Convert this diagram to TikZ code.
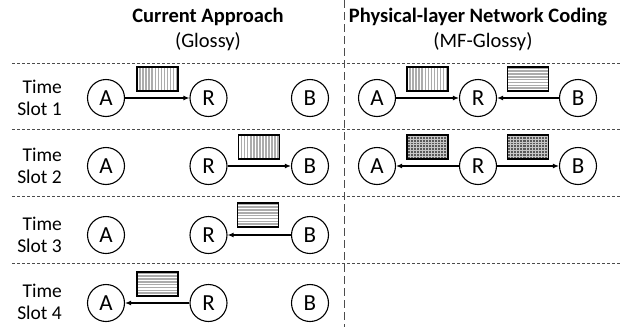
\documentclass[tikz,border=0pt]{standalone}
\usepackage{fontspec}
\setmainfont{Carlito}
\usetikzlibrary{arrows.meta}

\tikzset{
  station/.style={circle, draw, line width=1.1pt, minimum size=37pt, inner sep=0pt,
    font=\fontsize{23}{25}\selectfont},
  slotlabel/.style={anchor=east, align=right, inner sep=0pt,
    font=\fontsize{19.5}{22}\selectfont},
  heading/.style={inner sep=0pt, font=\fontsize{20.5}{24}\selectfont\bfseries},
  subheading/.style={inner sep=0pt, font=\fontsize{20.5}{24}\selectfont},
  rowsep/.style={line width=0.8pt, gray!60!black, dash pattern=on 3pt off 2pt},
  colsep/.style={line width=0.9pt, gray!60!black, dash pattern=on 8pt off 4pt},
  send/.style={line width=1.2pt, -{Latex[length=6pt, width=5pt]}},
  pkt/.style={draw, line width=1.1pt, minimum width=41pt, minimum height=24pt, inner sep=0pt},
  % packet from A: vertical stripes
  vpkt/.style={pkt, fill=white, path picture={
      \foreach \k in {1,...,13}
        \draw[gray!65, line width=1.6pt]
          ([xshift=\k*3.05pt]path picture bounding box.south west) --
          ([xshift=\k*3.05pt]path picture bounding box.north west);}},
  % packet from B: horizontal stripes
  hpkt/.style={pkt, fill=white, path picture={
      \foreach \k in {1,...,8}
        \draw[gray!65, line width=1.6pt]
          ([yshift=\k*2.85pt]path picture bounding box.south west) --
          ([yshift=\k*2.85pt]path picture bounding box.south east);}},
  % network-coded packet: dense grid
  gpkt/.style={pkt, fill=black!65, path picture={
      \foreach \k in {1,...,13}
        \draw[gray!45, line width=0.6pt]
          ([xshift=\k*3.05pt]path picture bounding box.south west) --
          ([xshift=\k*3.05pt]path picture bounding box.north west);
      \foreach \k in {1,...,8}
        \draw[gray!45, line width=0.6pt]
          ([yshift=\k*2.85pt]path picture bounding box.south west) --
          ([yshift=\k*2.85pt]path picture bounding box.south east);}},
}

\begin{document}
\begin{tikzpicture}[x=1pt, y=-1pt]
\useasboundingbox (0,0) rectangle (624,327);

% column headings
\node[heading]    (h1)  at (208,17) {Current Approach};
\node[subheading] (h1s) at (208,42) {(Glossy)};
\node[heading]    (h2)  at (478,17) {Physical-layer Network Coding};
\node[subheading] (h2s) at (483,42) {(MF-Glossy)};

% separators
\coordinate (vtop) at (344,0);
\coordinate (vbot) at (344,327);
\draw[colsep] (vtop) -- (vbot);
\foreach \y/\n in {63/0,129/1,196/2,263/3} {
  \coordinate (sl\n) at (12,\y);
  \coordinate (sr\n) at (620,\y);
  \draw[rowsep] (sl\n) -- (sr\n);
}

% slot labels
\node[slotlabel] (t1) at (62,98)  {Time\\Slot 1};
\node[slotlabel] (t2) at (62,166) {Time\\Slot 2};
\node[slotlabel] (t3) at (62,235) {Time\\Slot 3};
\node[slotlabel] (t4) at (62,302) {Time\\Slot 4};

% Glossy: four slots
\foreach \r/\y in {1/98,2/166,3/235,4/303} {
  \node[station] (a\r) at (106,\y) {A};
  \node[station] (r\r) at (208.5,\y) {R};
  \node[station] (b\r) at (310,\y) {B};
}
\node[vpkt] (k1) at (157.5,79)  {};
\draw[send] (a1) -- (r1);
\node[vpkt] (k2) at (259,147)  {};
\draw[send] (r2) -- (b2);
\node[hpkt] (k3) at (258,215)  {};
\draw[send] (b3) -- (r3);
\node[hpkt] (k4) at (157.5,284) {};
\draw[send] (r4) -- (a4);

% MF-Glossy: two slots
\foreach \r/\y in {1/98,2/166} {
  \node[station] (pa\r) at (377,\y) {A};
  \node[station] (pr\r) at (478,\y) {R};
  \node[station] (pb\r) at (578,\y) {B};
}
\node[vpkt] (pk1) at (427.5,79) {};
\node[hpkt] (pk2) at (528,79)   {};
\draw[send] (pa1) -- (pr1);
\draw[send] (pb1) -- (pr1);
\node[gpkt] (pk3) at (427.5,147) {};
\node[gpkt] (pk4) at (528,147)   {};
\draw[send] (pr2) -- (pa2);
\draw[send] (pr2) -- (pb2);
\end{tikzpicture}
\end{document}
